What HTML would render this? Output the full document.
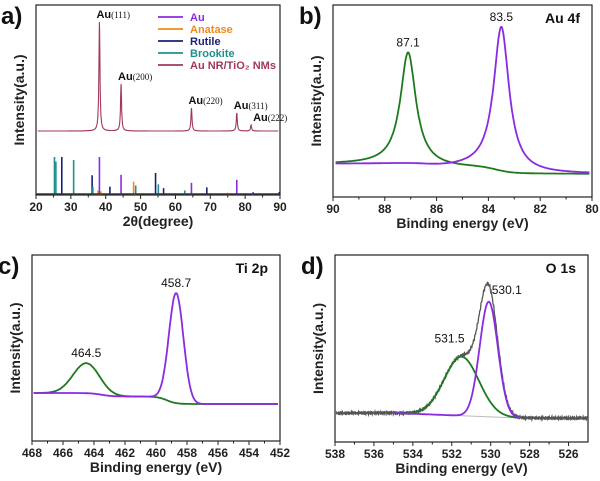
<!DOCTYPE html>
<html><head><meta charset="utf-8"><style>
html,body{margin:0;padding:0;background:#fff}
svg{display:block;font-family:"Liberation Sans",Arial,sans-serif}
</style></head><body>
<svg id="fig" width="600" height="481" viewBox="0 0 600 481" xmlns="http://www.w3.org/2000/svg">
<g id="pa"></g>
<g id="pb"></g>
<g id="pc"></g>
<g id="pd"></g>
</svg>
<script>
// ---------- Panel a data ----------
const xrdTicks = [20,30,40,50,60,70,80,90];
const xrdPeakPos = [38.2,44.4,64.6,77.6,81.7];
const xrdPeakHeight = [109,47,23,18,6];
const xrdPeakLabels = ["(111)","(200)","(220)","(311)","(222)"];
const stickPos = [25.3,25.7,27.4,30.8,36.1,36.3,37.8,38.2,38.6,41.2,44.4,48.0,48.6,54.3,55.1,56.6,62.7,64.6,69.0,77.6,75.0,82.3,89.8];
const stickVal = [100,88,100,92,52,22,12,100,10,22,53,35,25,58,28,18,12,32,20,40,6,8,8];
const stickPhase = ["B","B","R","B","R","B","A","Au","A","R","Au","A","B","R","B","R","B","Au","R","Au","A","Au","R"];
const legendNames = ["Au","Anatase","Rutile","Brookite","Au NR/TiO\u2082 NMs"];
const legendColors = ["#8a2be2","#f08a1c","#1b1f7a","#20908e","#a0385a"];
// ---------- XPS data ----------
const bTicks = [90,88,86,84,82,80];
const bCenters = [87.1,83.5]; const bHeights = [112,145]; const bWidths = [0.36,0.36];
const cTicks = [468,466,464,462,460,458,456,454,452];
const cCenters = [464.5,458.7]; const cHeights = [30,110]; const cWidths = [1.0,0.55];
const dTicks = [538,536,534,532,530,528,526];
const dCenters = [531.5,530.1]; const dHeights = [59,115]; const dWidths = [1.05,0.55];

const NS="http://www.w3.org/2000/svg";
function el(parent,tag,attrs,text){const e=document.createElementNS(NS,tag);for(const k in attrs)e.setAttribute(k,attrs[k]);if(text!==undefined)e.textContent=text;parent.appendChild(e);return e;}
function lorentz(x,c,w){return 1/(1+((x-c)/w)**2);}
function gauss(x,c,w){return Math.exp(-0.5*((x-c)/(w*0.85))**2);}

function frame(g,x0,x1,y0,y1,ticks,minorStep,label,xl,xr,fmt){
  const sx=v=>x0+(v-xl)/(xr-xl)*(x1-x0);
  const r=el(g,'rect',{x:x0,y:y0,width:x1-x0,height:y1-y0,fill:'none',stroke:'#222','stroke-width':1.2});
  
  
  ticks.forEach(t=>{
    el(g,'line',{x1:sx(t),x2:sx(t),y1:y1,y2:y1+4,stroke:'#222'});
    const tx=el(g,'text',{x:sx(t),y:y1+16,'font-size':12,'font-weight':'bold','text-anchor':'middle',fill:'#222'},fmt?fmt(t):t);
    
    
  });
  for(let i=0;i<ticks.length-1;i++){const m=(ticks[i]+ticks[i+1])/2;el(g,'line',{x1:sx(m),x2:sx(m),y1:y1,y2:y1+2.5,stroke:'#222'});}
  const xt=el(g,'text',{x:(x0+x1)/2,y:y1+31,'font-size':14,'font-weight':'bold','text-anchor':'middle',fill:'#222'},label);
  
  
  const yt=el(g,'text',{x:0,y:0,'font-size':14,'font-weight':'bold','text-anchor':'middle',fill:'#222',transform:`translate(${x0-12},${(y0+y1)/2}) rotate(-90)`},'Intensity(a.u.)');
  
  
  return sx;
}
function panelLabel(g,x,y,t){const p=el(g,'text',{x:x,y:y,'font-size':24,'font-weight':'bold',fill:'#111'},t);
  
  }
function path(g,pts,color,w,name){const p=el(g,'path',{d:'M'+pts.map(p=>p[0].toFixed(1)+','+p[1].toFixed(1)).join('L'),fill:'none',stroke:color,'stroke-width':w});
  
  return p;}

// ---------- Panel a ----------
(function(){
  const g=document.getElementById('pa');
  const x0=36,x1=280,y0=5,y1=195;
  panelLabel(g,1,24,'a)');
  const sx=frame(g,x0,x1,y0,y1,xrdTicks,5,'2θ(degree)',20,90);
  const base=131;
  const pts=[];
  for(let t=20.5;t<=89.5;t+=0.05){
    let y=base;
    xrdPeakPos.forEach((c,i)=>{y-=xrdPeakHeight[i]*lorentz(t,c,0.18);});
    pts.push([sx(t),y]);
  }
  path(g,pts,'#a0385a',1.1,'xrd-pattern-line');
  xrdPeakPos.forEach((c,i)=>{
    const ty=base-xrdPeakHeight[i]-4;
    const lx=(i==4)?sx(c)+2:sx(c)-3;
    const t=el(g,'text',{x:lx,y:ty,'font-size':11,'font-weight':'bold',fill:'#111'});
    
    
    el(t,'tspan',{},'Au');
    el(t,'tspan',{'font-size':9,'font-weight':'normal','font-family':'Liberation Serif,serif'},xrdPeakLabels[i]);
  });
  const colorOf={Au:legendColors[0],A:legendColors[1],R:legendColors[2],B:legendColors[3]};
  stickPos.forEach((p,i)=>{
    const l=el(g,'line',{x1:sx(p),x2:sx(p),y1:y1,y2:y1-stickVal[i]*0.38,stroke:colorOf[stickPhase[i]],'stroke-width':1.6});
    
    
  });
  el(g,'line',{x1:x0,x2:x1,y1:y1-1,y2:y1-1,stroke:'#333','stroke-width':1.5});
  legendNames.forEach((n,i)=>{
    const y=17+i*12;
    const lg=el(g,'g',{});
    
    
    el(lg,'line',{x1:158,x2:183,y1:y,y2:y,stroke:legendColors[i],'stroke-width':1.8});
    el(lg,'text',{x:190,y:y+4,'font-size':11,'font-weight':'bold',fill:legendColors[i]},n);
  });
})();

// ---------- XPS generic ----------
// steps = [energy of first step, energy of second step]; mid = baseline between steps
function xps(gid,x0,x1,y0,y1,ticks,xl,xr,letter,title,centers,heights,widths,colors,baseL,baseR,steps,mid,opts){
  const g=document.getElementById(gid);
  panelLabel(g,x0-34,y0+19,letter);
  const sx=frame(g,x0,x1,y0,y1,ticks,1,'Binding energy (eV)',xl,xr);
  const tt=el(g,'text',{x:x1-12,y:y0+18,'font-size':14,'font-weight':'bold','text-anchor':'end',fill:'#111'},title);
  
  
  const lo=opts.lo, hi=opts.hi;
  const shape=opts.gauss?gauss:lorentz;
  const bg=(x)=>{
    if(opts.linear){return baseL+(baseR-baseL)*(lo-x)/(lo-hi);}
    const s1=1/(1+Math.exp(-(x-steps[0])/0.35));
    const s2=1/(1+Math.exp(-(x-steps[1])/0.3));
    return baseR+(mid-baseR)*s2+(baseL-mid)*s1;};
  const comps=centers.map((c,k)=>{const pts=[];for(let x=lo;x>=hi;x-=(lo-hi)/500){pts.push([sx(x),bg(x)-heights[k]*shape(x,c,widths[k])]);}return pts;});
  if(opts.total){
    const pts=[];
    for(let x=xl-0.05;x>=xr+0.05;x-=(xl-xr)/600){
      let y=baseL+(baseR-baseL)*Math.max(0,Math.min(1,(opts.lo-x)/(opts.lo-opts.hi)));
      centers.forEach((c,k)=>{y-=heights[k]*shape(x,c,widths[k]);});
      y+=Math.sin(x*97)*1.2+Math.sin(x*231)*0.8;
      pts.push([sx(x),y]);
    }
    path(g,pts,'#555',1.3,'measured-spectrum');
    el(g,'line',{x1:sx(opts.lo),x2:sx(opts.hi),y1:baseL,y2:baseR,stroke:'#bbb','stroke-width':1});
  }
  comps.forEach((p,k)=>path(g,p,colors[k],1.8,'fit-component-'+centers[k]));
  centers.forEach((c,k)=>{
    const off=opts.labelOff?opts.labelOff[k]:[0,-6];
    const t=el(g,'text',{x:sx(c)+off[0],y:bg(c)-heights[k]+off[1],'font-size':12,'text-anchor':'middle',fill:'#111'},c.toFixed(1));
    
    
  });
}
xps('pb',333,592,5,197,bTicks,90,80,'b)','Au 4f',bCenters,bHeights,bWidths,['#1e7a1e','#8a2be2'],164,174,[86.4,83.7],167.5,{lo:89.9,hi:80.1});
xps('pc',32,280,255,441,cTicks,468,452,'c)','Ti 2p',cCenters,cHeights,cWidths,['#1e7a1e','#8a2be2'],393,404,[463.5,459.3],396.5,{lo:467.9,hi:452.1,gauss:true});
xps('pd',335,588,255,442,dTicks,538,525,'d)','O 1s',dCenters,dHeights,dWidths,['#1e7a1e','#8a2be2'],413,418,[531,531],415,{lo:535,hi:528.5,gauss:true,total:true,linear:true,labelOff:[[-12,-14],[18,-8]]});
</script>
</body></html>
